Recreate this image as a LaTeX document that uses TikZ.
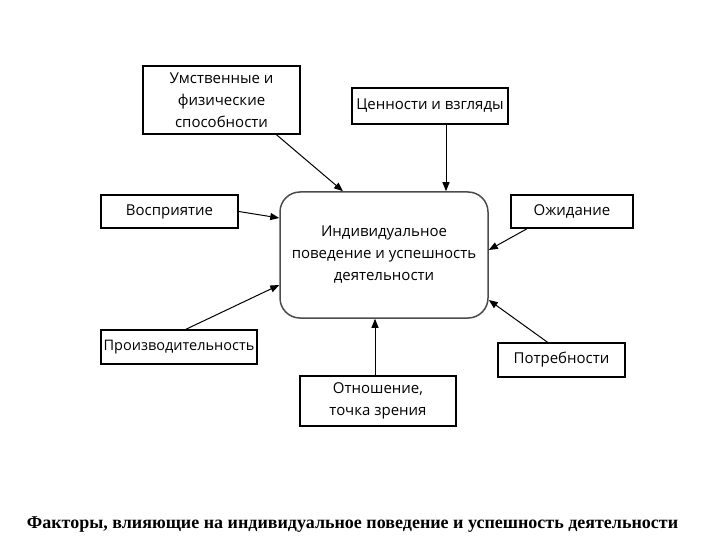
\documentclass[tikz,border=0pt]{standalone}
\usepackage{fontspec}
\setmainfont{Liberation Serif}
\newfontfamily\boxfont{Open Sans}
\usetikzlibrary{arrows.meta, positioning, calc}

\begin{document}
\begin{tikzpicture}[
    x=1pt, y=-1pt,
    factor/.style={rectangle, draw=black, line width=1.5pt, align=center,
                   font=\boxfont\fontsize{15}{22}\selectfont},
    core/.style={rectangle, draw=black!70, line width=1.5pt, rounded corners=20pt,
                 minimum width=208pt, minimum height=126pt, align=center,
                 font=\boxfont\fontsize{15}{22}\selectfont},
    arr/.style={-{Triangle[length=9pt, width=7pt]}, line width=1pt},
  ]
  \useasboundingbox[fill=white] (0,0) rectangle (720,540);

  \node[core] (behav) at (384,255) {Индивидуальное\\поведение и успешность\\деятельности};

  \node[factor, minimum width=157pt, minimum height=68pt] (abil) at (221.5,100)
    {Умственные и\\физические\\способности};
  \node[factor, minimum width=156pt, minimum height=36pt] (vals) at (430,106)
    {Ценности и взгляды};
  \node[factor, minimum width=137pt, minimum height=33pt] (perc) at (169.5,211.5)
    {Восприятие};
  \node[factor, minimum width=122pt, minimum height=33pt] (expct) at (572,211.5)
    {Ожидание};
  \node[factor, minimum width=156pt, minimum height=34pt, inner xsep=0pt,
        font=\boxfont\fontsize{14.5}{22}\selectfont] (prod) at (179,347)
    {Производительность};
  \node[factor, minimum width=127pt, minimum height=34pt] (needs) at (561.5,360)
    {Потребности};
  \node[factor, minimum width=156pt, minimum height=50pt] (attit) at (378,401)
    {Отношение,\\точка зрения};

  % стрелки к центральному блоку
  \draw[arr] ($(abil.south)+(55,0)$) -- ($(behav.north)+(-41,0)$);
  \draw[arr] ($(vals.south)+(16,0)$) -- ($(behav.north)+(62,0)$);
  \draw[arr] (perc.east) -- ($(behav.west)+(0,-37)$);
  \draw[arr] ($(expct.south)+(-45,0)$) -- ($(behav.east)+(0,-5)$);
  \draw[arr] ($(prod.north)+(7,0)$) -- ($(behav.west)+(0,30)$);
  \draw[arr] ($(needs.north)+(-14,0)$) -- ($(behav.east)+(0,45)$);
  \draw[arr] ($(attit.north)+(-3,0)$) -- ($(behav.south)+(-9,0)$);

  \node[font=\bfseries\fontsize{18}{22}\selectfont] (title) at (352.5,525)
    {Факторы, влияющие на индивидуальное поведение и успешность деятельности};
\end{tikzpicture}
\end{document}
